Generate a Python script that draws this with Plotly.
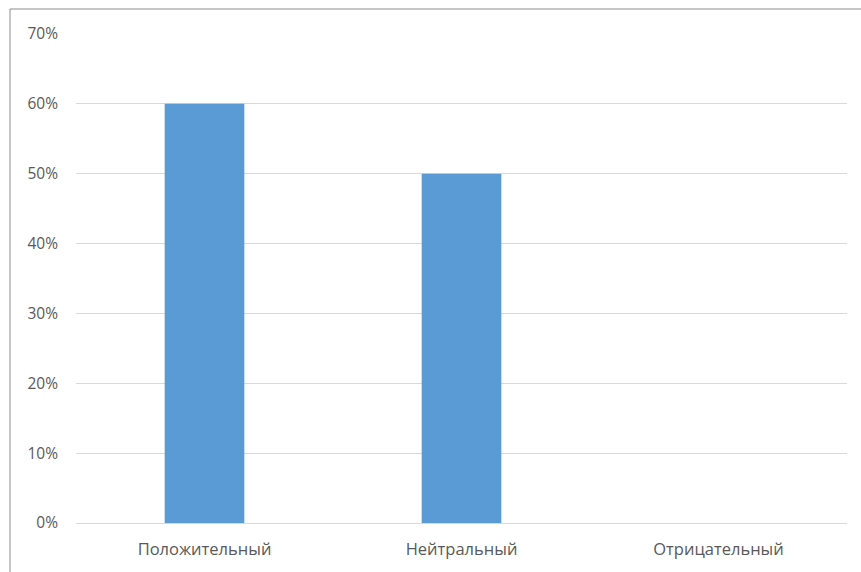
import plotly.graph_objects as go

categories = ["Положительный", "Нейтральный", "Отрицательный"]
values = [0.60, 0.50, 0.0]
tick_vals = [0, 0.1, 0.2, 0.3, 0.4, 0.5, 0.6, 0.7]
tick_text = ["0%", "10%", "20%", "30%", "40%", "50%", "60%", "70%"]

W, H = 861, 572
L, R, T, B = 76, 14, 34, 49
pw, ph = W - L - R, H - T - B

fig = go.Figure(go.Bar(x=categories, y=values, marker_color="#5B9BD5",
                       marker_line_width=0, hoverinfo="skip"))

bx = (10 - L) / pw
by = 1 + (T - 9) / ph
fig.add_shape(type="line", xref="paper", yref="paper", x0=bx, x1=1.2, y0=by, y1=by,
              line=dict(color="#8C8C8C", width=1))
fig.add_shape(type="line", xref="paper", yref="paper", x0=bx, x1=bx, y0=by, y1=-0.2,
              line=dict(color="#8C8C8C", width=1))

fig.update_layout(
    width=W, height=H,
    margin=dict(l=L, r=R, t=T, b=B),
    paper_bgcolor="white", plot_bgcolor="white",
    bargap=0.69, showlegend=False,
    font=dict(family="Open Sans", size=15, color="#595959"),
    xaxis=dict(showgrid=False, showline=False, ticks="", ticklabelstandoff=14,
               tickfont=dict(size=16.5)),
    yaxis=dict(range=[0, 0.7], tickvals=tick_vals, ticktext=tick_text,
               showgrid=True, gridcolor="#D9D9D9", gridwidth=1,
               zeroline=True, zerolinecolor="#D9D9D9", zerolinewidth=1,
               showline=False, ticks="", ticklabelstandoff=17,
               tickfont=dict(size=15.5)),
)
fig.write_html("out.html", config={"displayModeBar": False},
               post_script="document.body.style.margin='0';document.body.style.overflow='hidden';")
